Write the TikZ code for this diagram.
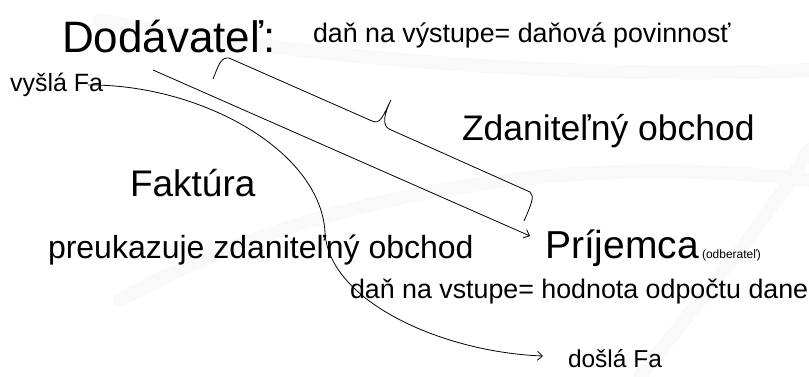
\documentclass[tikz,border=0pt]{standalone}
\usepackage{fontspec}
\setmainfont{Liberation Sans}
\usetikzlibrary{arrows.meta}
\newcommand{\fs}[1]{\fontsize{#1}{#1}\selectfont}
\begin{document}
\begin{tikzpicture}[x=1pt,y=-1pt,
    txt/.style={anchor=base west,inner sep=0pt,outer sep=0pt},
    pozadie/.style={black!2.5,line width=14pt,line cap=round},
    spoj/.style={line width=0.8pt},
    sipka/.style={spoj,-{Straight Barb[length=5pt,width=9pt,line width=0.8pt]}}]
  \useasboundingbox (0,0) rectangle (809,376);
  \draw[pozadie] (100,20) .. controls (300,60) and (600,80) .. (809,70);
  \draw[pozadie] (120,300) .. controls (300,200) and (550,150) .. (809,180);
  \draw[pozadie] (809,150) .. controls (760,230) and (700,300) .. (640,376);
  \draw
    (62,52) node[txt] (dod){\fs{44}Dodávateľ:}
    (313,42) node[txt] (vyst){\fs{26.8}daň na výstupe= daňová povinnosť}
    (10,91) node[txt] (vysla){\fs{25}vyšlá Fa}
    (462,140) node[txt] (zdan){\fs{35.5}Zdaniteľný obchod}
    (130,196) node[txt] (fakt){\fs{37}Faktúra}
    (48,258) node[txt] (preuk){\fs{32}preukazuje zdaniteľný obchod}
    (545,258) node[txt] (prij){\fs{39}Príjemca}
    (702,258) node[txt] (odb){\fs{12}(odberateľ)}
    (350,298) node[txt] (vstup){\fs{26.8}daň na vstupe= hodnota odpočtu dane}
    (568,367) node[txt] (dosla){\fs{24.5}došlá Fa};
  \coordinate (od) at (153,70);
  \coordinate (k) at (530,236);
  \coordinate (fa) at (88,85);
  \coordinate (zlom) at (325,232);
  \coordinate (fa2) at (543,356);
  \begin{scope}[spoj]
    \draw[sipka] (od) to (k);
    \draw[sipka] (fa) .. controls (200,84) and (320,150) .. (zlom)
      .. controls (328,300) and (440,352) .. (fa2);
    \draw[line join=round] (213,79) .. controls (219,64) and (221,57) .. (229,58)
      -- (372,121) .. controls (380,125) and (383,116) .. (391,100)
      (391,100) .. controls (384,114) and (382,125) .. (389,129)
      -- (530,192) .. controls (535,196) and (531,205) .. (524,221);
  \end{scope}
\end{tikzpicture}
\end{document}
